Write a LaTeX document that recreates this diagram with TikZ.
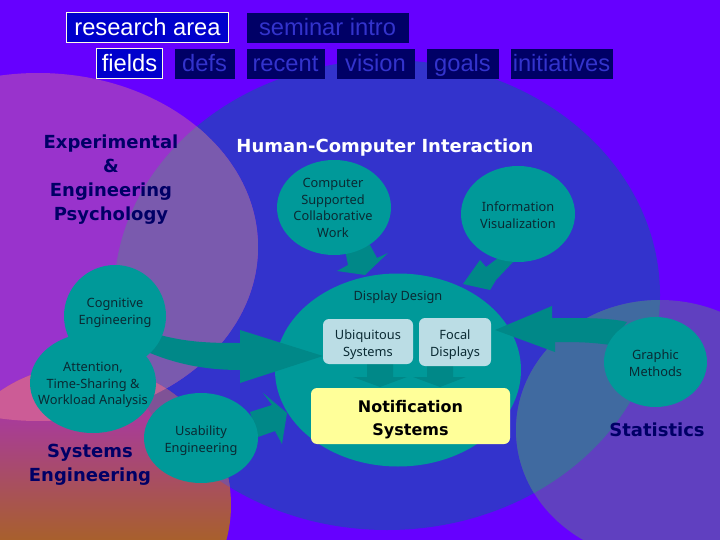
\documentclass[tikz,border=0pt]{standalone}
\usepackage{fontspec}
\setmainfont{Liberation Sans}
\newfontfamily\tah{Noto Sans}
\newfontfamily\tahb{DejaVu Sans}
\usetikzlibrary{shapes.geometric}
\definecolor{bgv}{HTML}{6600FF}
\definecolor{hci}{HTML}{3333CC}
\definecolor{expc}{HTML}{9933CC}
\definecolor{eh}{HTML}{7A5AAE}
\definecolor{stc}{HTML}{6040C0}
\definecolor{sth}{HTML}{406AA0}
\definecolor{tealc}{HTML}{009999}
\definecolor{arrc}{HTML}{008888}
\definecolor{navy}{HTML}{000066}
\definecolor{boxc}{HTML}{BBDDE5}
\definecolor{notec}{HTML}{FFFF99}
\definecolor{pinkc}{HTML}{CC5C96}
\definecolor{syh}{HTML}{7F5296}
\definecolor{syhe}{HTML}{BC6496}
\definecolor{sya}{HTML}{A83C98}
\definecolor{syb}{HTML}{B85A70}
\definecolor{syc}{HTML}{A8602C}
\definecolor{curc}{HTML}{0000CC}
\definecolor{txtc}{HTML}{0A2A33}
\tikzset{
 bub/.style={ellipse,fill=tealc,inner sep=0pt},
 bubt/.style={align=center,inner sep=0pt,text=txtc,font=\tah\fontsize{12.8}{16.8}\selectfont},
 cur/.style={draw=white!90!yellow,line width=1pt,fill=curc,text=white,font=\fontsize{23.7}{24}\selectfont,inner sep=0pt,minimum height=30pt,text height=19pt,text depth=3pt},
 oth/.style={draw=navy,fill=navy,text=hci,font=\fontsize{23.7}{24}\selectfont,inner sep=0pt,minimum height=29pt,text height=19pt,text depth=3pt},
 ttl/.style={align=center,text=navy,inner sep=0pt,font=\tahb\bfseries\fontsize{18}{24}\selectfont},
 rbox/.style={rounded corners=6pt,fill=boxc,inner sep=0pt},
 barrow/.style={fill=arrc,draw=none}
}
\begin{document}
\begin{tikzpicture}[x=1pt,y=-1pt]
\useasboundingbox (0,0) rectangle (720,540);
\fill[bgv] (0,0) rectangle (720,540);
\begin{scope}
\clip (0,0) rectangle (720,540);
\fill[hci] (387,295) ellipse [x radius=273,y radius=235];
\fill[expc] (38,247) ellipse [x radius=220,y radius=174];
\begin{scope}\clip (38,247) ellipse [x radius=220,y radius=174];
\fill[eh] (387,295) ellipse [x radius=273,y radius=235];\end{scope}
\fill[stc] (660,430) ellipse [x radius=144,y radius=130];
\begin{scope}\clip (660,430) ellipse [x radius=144,y radius=130];
\fill[sth] (387,295) ellipse [x radius=273,y radius=235];\end{scope}
\begin{scope}\clip (85,505) ellipse [x radius=146,y radius=140];
\shade[top color=sya,middle color=syb,bottom color=syc] (-100,420) rectangle (240,540);
\fill[sya] (-100,360) rectangle (240,420);
\fill[pinkc] (38,247) ellipse [x radius=220,y radius=174];
\begin{scope}\clip (387,295) ellipse [x radius=273,y radius=235];
\fill[syh] (-100,360) rectangle (240,540);
\clip (38,247) ellipse [x radius=220,y radius=174];
\fill[syhe] (-100,360) rectangle (240,540);
\end{scope}
\end{scope}
\end{scope}
\node[bub,minimum width=246pt,minimum height=193pt] (disp) at (398,370) {};
\fill[barrow] (160,335) .. controls (190,343) and (215,343) .. (240,343) -- (240,330) -- (323,356) -- (240,383) -- (240,370) .. controls (200,370) and (170,362) .. (143,350) -- cycle;
\fill[barrow] (250,412) -- (272,405) -- (263,393) -- (287,413) -- (282,444) -- (275,431) -- (258,437) -- cycle;
\fill[barrow] (370,245) -- (377,258) -- (388,253) -- (365,275) -- (337,271) -- (348,265) -- (345,250) -- cycle;
\fill[barrow] (498,258) -- (513,262) -- (496,280) -- (490,290) -- (463,284) -- (480,260) -- (486,267) -- cycle;
\fill[barrow] (627,322) .. controls (610,318) and (590,318) .. (552,318) -- (552,306) -- (495,330) -- (555,352) -- (555,342) .. controls (575,342) and (590,342) .. (610,345) -- cycle;
\fill[barrow] (367,364) -- (393,364) -- (393,377) -- (407,377) -- (380,387) -- (353,377) -- (367,377) -- cycle;
\fill[barrow] (427,364) -- (453,364) -- (453,377) -- (466,377) -- (440,387) -- (413,377) -- (427,377) -- cycle;
\node[bub,minimum width=114pt,minimum height=95pt] (cscw) at (334,207.5) {};
\node[bubt] (cscwt) at (333,208) {Computer\\Supported\\Collaborative\\Work};
\node[bub,minimum width=114pt,minimum height=96pt] (info) at (518,214) {};
\node[bubt] (infot) at (518,215) {Information\\Visualization};
\node[bub,minimum width=102pt,minimum height=102pt] (cog) at (115,316) {};
\node[bubt] (cogt) at (115,312.5) {Cognitive\\Engineering};
\node[bub,minimum width=126pt,minimum height=100pt] (att) at (93,383) {};
\node[bubt] (attt) at (93,385) {Attention,\\Time-Sharing \&\\Workload Analysis};
\node[bub,minimum width=114pt,minimum height=90pt] (usa) at (201,438) {};
\node[bubt] (usat) at (201,441) {Usability\\Engineering};
\node[bub,minimum width=103pt,minimum height=90pt] (gra) at (655.5,362) {};
\node[bubt] (grat) at (655.5,363.5) {Graphic\\Methods};
\node[rbox,minimum width=90pt,minimum height=45pt] (ubi) at (368,341.5) {};
\node[bubt] (ubit) at (368,344.5) {Ubiquitous\\Systems};
\node[rbox,minimum width=72pt,minimum height=48pt] (foc) at (455,342) {};
\node[bubt] (foct) at (455,345) {Focal\\Displays};
\node[rbox,fill=notec,minimum width=199pt,minimum height=56pt] (note) at (410.5,416) {};
\node[align=center,inner sep=0pt,text=black,font=\tahb\bfseries\fontsize{16}{23}\selectfont] (nott) at (410.5,419.5) {Notification\\Systems};
\node[bubt] (dd) at (398,297) {Display Design};
\node[cur,minimum width=162pt] (ra) at (147.5,27.5) {research area};
\node[cur,minimum width=66pt] (fi) at (129.5,63.5) {fields};
\node[oth,minimum width=161pt] (si) at (327.5,27.5) {seminar intro};
\node[oth,minimum width=59pt] (de) at (204.5,63.5) {defs};
\node[oth,minimum width=77pt] (re) at (285.5,63.5) {recent};
\node[oth,minimum width=77pt] (vi) at (375.5,63.5) {vision};
\node[oth,minimum width=71pt] (go) at (462.5,63.5) {goals};
\node[oth,minimum width=101pt] (in) at (561.5,63.5) {initiatives};
\node[ttl] (ep) at (111,180) {Experimental\\\&\\Engineering\\Psychology};
\node[ttl,text=white] (hc) at (385,148) {Human-Computer Interaction};
\node[ttl] (se) at (90,465) {Systems\\Engineering};
\node[ttl] (st) at (657,430) {Statistics};
\end{tikzpicture}
\end{document}
